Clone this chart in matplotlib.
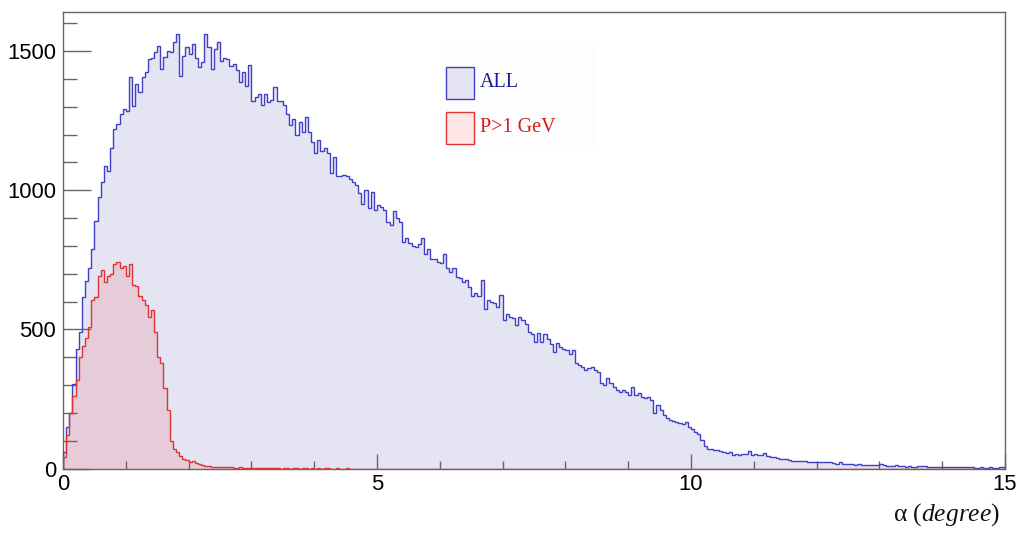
import numpy as np
import matplotlib
matplotlib.use("Agg")
import matplotlib.pyplot as plt
from matplotlib.patches import Rectangle
from matplotlib.ticker import MultipleLocator

# ---------------- data ----------------
x_min, x_max, n_bins = 0.0, 15.0, 300

all_counts = [
    60, 150, 200, 305, 430, 490, 615, 675, 720, 790,
    890, 975, 1030, 1088, 1070, 1150, 1220, 1238, 1274, 1290,
    1286, 1405, 1304, 1381, 1351, 1405, 1423, 1471, 1475, 1495,
    1519, 1435, 1477, 1500, 1495, 1531, 1561, 1411, 1483, 1513,
    1490, 1525, 1475, 1441, 1459, 1561, 1513, 1435, 1507, 1531,
    1465, 1475, 1470, 1445, 1455, 1430, 1390, 1425, 1375, 1450,
    1320, 1335, 1345, 1305, 1345, 1318, 1325, 1370, 1322, 1320,
    1305, 1275, 1235, 1255, 1200, 1245, 1210, 1262, 1210, 1172,
    1135, 1180, 1140, 1150, 1135, 1060, 1120, 1050, 1050, 1055,
    1050, 1040, 1030, 1020, 990, 950, 1000, 935, 995, 930,
    945, 940, 930, 885, 875, 925, 900, 885, 815, 830,
    810, 800, 796, 805, 830, 772, 790, 754, 754, 742,
    737, 770, 719, 707, 719, 689, 683, 671, 677, 653,
    620, 629, 620, 677, 575, 605, 600, 594, 582, 623,
    533, 557, 546, 540, 515, 545, 533, 521, 491, 485,
    455, 488, 455, 482, 467, 449, 419, 452, 437, 431,
    425, 413, 425, 378, 371, 366, 354, 360, 366, 354,
    348, 306, 300, 324, 306, 294, 282, 276, 282, 276,
    264, 294, 264, 270, 258, 252, 256, 248, 200, 228,
    210, 192, 180, 174, 171, 168, 162, 160, 168, 150,
    144, 130, 125, 103, 80, 72, 72, 67, 67, 64,
    61, 55, 58, 49, 52, 50, 52, 54, 62, 48,
    52, 50, 48, 55, 44, 43, 42, 37, 34, 33,
    33, 32, 28, 29, 29, 28, 26, 25, 25, 24,
    23, 22, 22, 24, 25, 19, 18, 23, 16, 16,
    15, 15, 14, 15, 13, 13, 13, 14, 12, 13,
    15, 14, 11, 10, 11, 12, 11, 10, 7, 8,
    7, 7, 8, 9, 8, 7, 7, 6, 7, 6,
    6, 5, 6, 7, 5, 6, 4, 5, 5, 4,
    3, 3, 4, 3, 3, 4, 3, 3, 5, 4,
]

p1_counts_head = [
    40, 120, 200, 260, 320, 400, 440, 470, 510, 605,
    615, 690, 715, 670, 690, 700, 735, 742, 720, 727,
    690, 736, 660, 655, 620, 605, 587, 545, 570, 490,
    400, 378, 290, 210, 100, 70, 60, 45, 35, 30,
    25, 27, 21, 18, 14, 10, 8, 7, 6, 5,
    5, 4, 4, 5, 3, 3, 4, 3, 2, 3,
    2, 2, 1, 2, 1, 1, 2, 1, 1, 0,
    1, 1, 0, 1, 1, 0, 1, 1, 0, 1,
    0, 1, 0, 1, 1, 0, 0, 1, 0, 0,
    1, 0,
]
p1_counts = p1_counts_head + [0] * (n_bins - len(p1_counts_head))

legend_labels = ["ALL", "P>1 GeV"]
y_max = 1640

# ---------------- style ----------------
blue_line = "#4040c4"
blue_fill = "#e4e4f2"
red_line = "#e03434"
red_fill = (1.0, 0.0, 0.0, 0.10)
axis_col = "#666666"

W, H = 1019, 533
fig = plt.figure(figsize=(W / 100, H / 100), dpi=100)
ax = fig.add_axes([63 / W, 1 - 468.6 / H, (1005 - 63) / W, (468.6 - 12) / H])

edges = np.linspace(x_min, x_max, n_bins + 1)
ax.stairs(all_counts, edges, fill=True, color=blue_fill, zorder=1)
ax.stairs(all_counts, edges, color=blue_line, lw=1.0, zorder=3)
ax.stairs(p1_counts, edges, fill=True, color=red_fill, zorder=2)
ax.stairs(p1_counts, edges, color=red_line, lw=1.0, zorder=4)

ax.set_xlim(x_min, x_max)
ax.set_ylim(0, y_max)

for s in ax.spines.values():
    s.set_color(axis_col)
    s.set_linewidth(1.0)

ax.xaxis.set_major_locator(MultipleLocator(5))
ax.xaxis.set_minor_locator(MultipleLocator(1))
ax.yaxis.set_major_locator(MultipleLocator(500))
ax.yaxis.set_minor_locator(MultipleLocator(100))

fs_tick = 15.8
ax.tick_params(axis="y", which="major", direction="in", length=20, width=1.0,
               color=axis_col, pad=5, labelsize=fs_tick)
ax.tick_params(axis="y", which="minor", direction="in", length=10, width=1.0,
               color=axis_col)
ax.tick_params(axis="x", which="major", direction="in", length=11, width=1.0,
               color=axis_col, pad=4, labelsize=fs_tick)
ax.tick_params(axis="x", which="minor", direction="in", length=5.5, width=1.0,
               color=axis_col)
for lab in ax.get_xticklabels() + ax.get_yticklabels():
    lab.set_family("Liberation Sans")

# axis title
plt.rcParams["mathtext.fontset"] = "custom"
plt.rcParams["mathtext.rm"] = "Liberation Serif"
plt.rcParams["mathtext.it"] = "Liberation Serif:italic"
fig.text(1000 / W, 1 - 515 / H, r"α $\mathit{(degree)}$", ha="right", va="center",
         fontsize=18.4, family="Liberation Serif", color="#111111")

# legend (ROOT TLegend look): boxes + coloured labels
leg_bg = Rectangle((440 / W, 1 - 150 / H), 155 / W, 105 / H, transform=fig.transFigure,
                   facecolor="#fdfdfd", edgecolor="none", zorder=5)
fig.patches.append(leg_bg)
entry_style = [
    (blue_fill, blue_line, "#1c1ca0", 66.7),
    ((1.0, 0.9, 0.9), red_line, "#d41c1c", 111.7),
]
for label, (fc, ec, tc, top) in zip(legend_labels, entry_style):
    r = Rectangle((446 / W, 1 - (top + 32) / H), 28 / W, 32 / H,
                  transform=fig.transFigure, facecolor=fc, edgecolor=ec, lw=1.0, zorder=6)
    fig.patches.append(r)
    fig.text(480 / W, 1 - (top + 16) / H, label, ha="left", va="center",
             fontsize=14.5, family="Liberation Serif", color=tc, zorder=7)

fig.savefig("out.png", dpi=100)
